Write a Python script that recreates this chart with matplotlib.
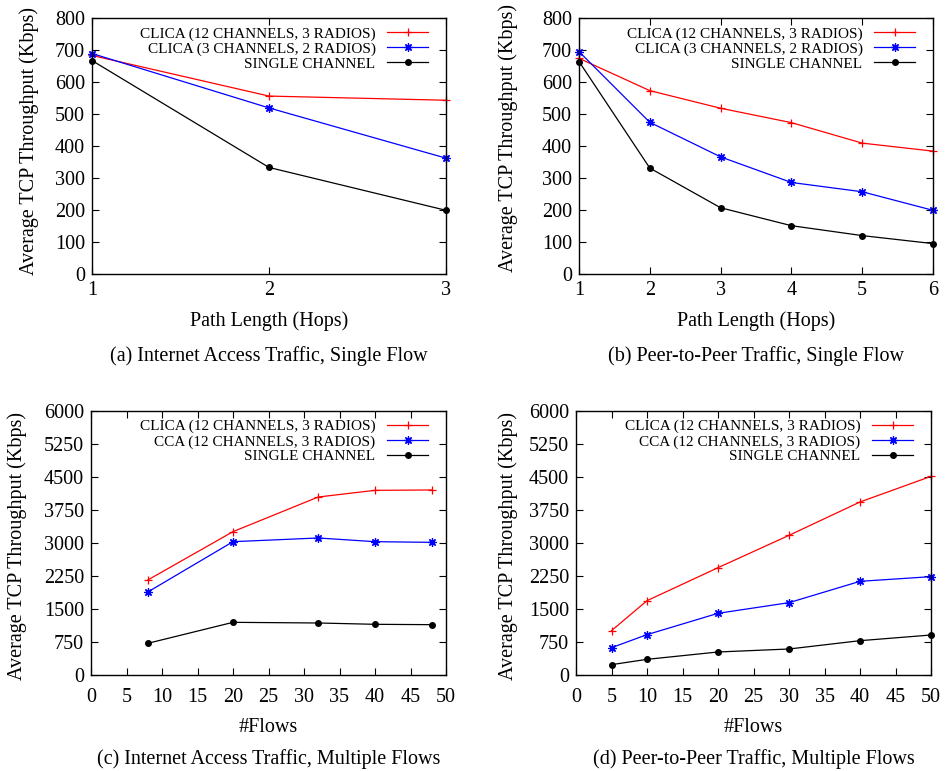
import numpy as np
import matplotlib
matplotlib.use("Agg")
import matplotlib.pyplot as plt

plt.rcParams["font.family"] = ["Liberation Serif", "DejaVu Serif"]

# -------------------------
# data
# -------------------------

hops_a = [1, 2, 3]
clica12_a = [683, 556, 543]
clica3_a = [689, 519, 362]
single_a = [667, 333, 199]

hops_b = [1, 2, 3, 4, 5, 6]
clica12_b = [674, 573, 518, 473, 409, 384]
clica3_b = [695, 474, 366, 286, 257, 199]
single_b = [664, 331, 207, 151, 120, 95]

flows_c = [8, 20, 32, 40, 48]
clica_c = [2159, 3258, 4045, 4197, 4205]
cca_c = [1886, 3030, 3114, 3030, 3015]
single_c = [720, 1197, 1182, 1152, 1144]

flows_d = [5, 10, 20, 30, 40, 50]
clica_d = [1008, 1689, 2439, 3174, 3932, 4515]
cca_d = [621, 917, 1402, 1644, 2129, 2235]
single_d = [235, 356, 523, 591, 780, 909]

labels_top = ["CLICA (12 CHANNELS, 3 RADIOS)", "CLICA (3 CHANNELS, 2 RADIOS)", "SINGLE CHANNEL"]
labels_bot = ["CLICA (12 CHANNELS, 3 RADIOS)", "CCA (12 CHANNELS, 3 RADIOS)", "SINGLE CHANNEL"]

captions = [
    "(a) Internet Access Traffic, Single Flow",
    "(b) Peer-to-Peer Traffic, Single Flow",
    "(c) Internet Access Traffic, Multiple Flows",
    "(d) Peer-to-Peer Traffic, Multiple Flows",
]

W, H = 949, 771
fig = plt.figure(figsize=(W / 100, H / 100), dpi=100)


def add_axes(l, r, t, b):
    return fig.add_axes([l / W, 1 - b / H, (r - l) / W, (b - t) / H])


ax_a = add_axes(92, 446, 18, 274)
ax_b = add_axes(579, 933, 18, 274)
ax_c = add_axes(91, 446, 411, 675)
ax_d = add_axes(576, 931, 411, 675)

star = (8, 2, 0)
styles = [
    dict(color="red", marker="+", markersize=6, markeredgewidth=0.9),
    dict(color="blue", marker=star, markersize=6, markeredgewidth=0.9),
    dict(color="black", marker="o", markersize=4),
]


def draw(ax, x, ys, labels, xlim, xticks, ylim, yticks, xlabel, caption,
         ylab_pos, xpad):
    for y, lab, st in zip(ys, labels, styles):
        ax.plot(x, y, linewidth=0.9, label=lab, clip_on=False, **st)
    ax.set_xlim(*xlim)
    ax.set_ylim(*ylim)
    ax.set_xticks(xticks)
    ax.set_yticks(yticks)
    ax.tick_params(direction="in", top=True, right=True, length=5,
                   labelsize=14.5, pad=5)
    ax.tick_params(axis="x", pad=xpad)
    for sp in ax.spines.values():
        sp.set_linewidth(1.0)
    ax.set_xlabel(xlabel, fontsize=14.5, labelpad=8)
    ax.set_ylabel("Average TCP Throughput (Kbps)", fontsize=14.5)
    ax.yaxis.set_label_coords(*ylab_pos)
    ax.legend(loc="upper right", frameon=False, markerfirst=False,
              fontsize=11, handlelength=2.7, labelspacing=0.08,
              borderaxespad=0.3, handletextpad=0.75,
              bbox_to_anchor=(0.98, 1.008))
    ax.text(0.5, -0.32, caption, transform=ax.transAxes, ha="center",
            va="center", fontsize=14.5)


draw(ax_a, hops_a, [clica12_a, clica3_a, single_a], labels_top,
     (1, 3), [1, 2, 3], (0, 800), np.arange(0, 801, 100),
     "Path Length (Hops)", captions[0], (-0.15, 0.52), 5)
draw(ax_b, hops_b, [clica12_b, clica3_b, single_b], labels_top,
     (1, 6), [1, 2, 3, 4, 5, 6], (0, 800), np.arange(0, 801, 100),
     "Path Length (Hops)", captions[1], (-0.172, 0.53), 5)
draw(ax_c, flows_c, [clica_c, cca_c, single_c], labels_bot,
     (0, 50), np.arange(0, 51, 5), (0, 6000), np.arange(0, 6001, 750),
     "#Flows", captions[2], (-0.18, 0.49), 9.5)
draw(ax_d, flows_d, [clica_d, cca_d, single_d], labels_bot,
     (0, 50), np.arange(0, 51, 5), (0, 6000), np.arange(0, 6001, 750),
     "#Flows", captions[3], (-0.163, 0.49), 9.5)

fig.savefig("out.png", dpi=100)
